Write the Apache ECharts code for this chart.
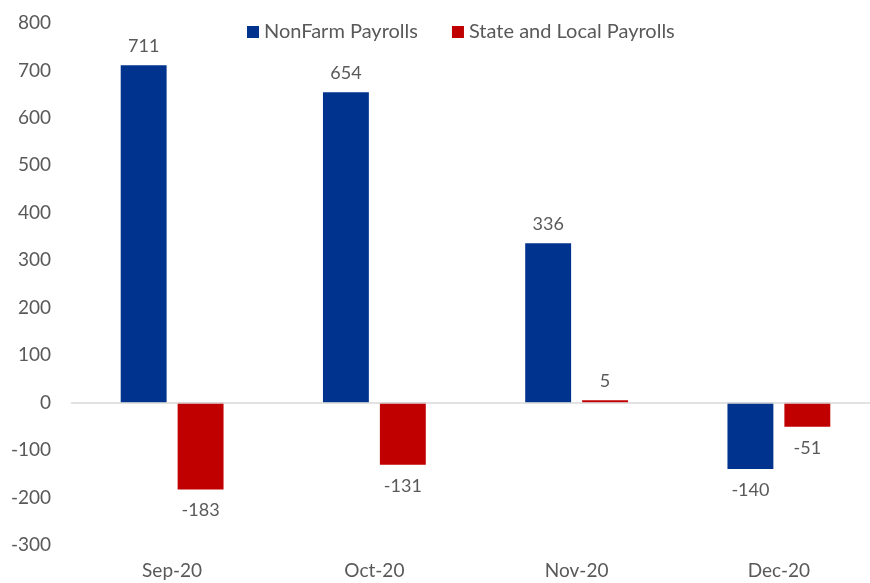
<!DOCTYPE html>
<html>
<head>
<meta charset="utf-8">
<script src="https://cdn.jsdelivr.net/npm/echarts@6/dist/echarts.min.js"></script>
<style>
  html, body { margin: 0; padding: 0; background: #fff; }
  #chart { width: 870px; height: 583px; }
</style>
</head>
<body>
<div id="chart"></div>
<script>
const months = ['Sep-20', 'Oct-20', 'Nov-20', 'Dec-20']
const nonFarm = [711, 654, 336, -140]
const stateLocal = [-183, -131, 5, -51]
const yTicks = [-300, -200, -100, 0, 100, 200, 300, 400, 500, 600, 700, 800]

const textColor = '#595959'
const font = 'Lato'

// label above positive bars, below negative ones
function withLabels(values) {
  return values.map(v => ({
    value: v,
    label: { position: v < 0 ? 'bottom' : 'top', distance: v < 0 ? 12 : 10 }
  }))
}

const chart = echarts.init(document.getElementById('chart'))
chart.setOption({
  animation: false,
  textStyle: { fontFamily: font },
  legend: {
    left: 242, top: 17,
    itemWidth: 12, itemHeight: 12, itemGap: 34, itemTextGap: 6,
    icon: 'rect',
    textStyle: { color: textColor, fontSize: 20, fontFamily: font },
    data: ['NonFarm Payrolls', 'State and Local Payrolls']
  },
  grid: { left: 71, top: 23, width: 809, bottom: 38, containLabel: false, outerBoundsMode: 'none' },
  xAxis: {
    type: 'category',
    data: months,
    axisLine: { show: false, onZero: false },
    axisTick: { show: false },
    axisLabel: { color: textColor, fontSize: 19, fontFamily: font, margin: 16 }
  },
  yAxis: {
    type: 'value',
    min: yTicks[0], max: yTicks[yTicks.length - 1], interval: 100,
    axisLine: { show: false },
    axisTick: { show: false },
    splitLine: { show: false },
    axisLabel: { color: textColor, fontSize: 19, fontFamily: font, margin: 20 }
  },
  series: [
    {
      name: 'NonFarm Payrolls', type: 'bar',
      data: withLabels(nonFarm),
      barWidth: '22.7%', barGap: '24%',
      itemStyle: { color: '#00338D' },
      label: { show: true, color: textColor, fontSize: 18, fontFamily: font },
      markLine: {
        silent: true, symbol: 'none', label: { show: false },
        lineStyle: { color: '#d9d9d9', type: 'solid', width: 1.5 },
        data: [{ yAxis: 0 }]
      }
    },
    {
      name: 'State and Local Payrolls', type: 'bar',
      data: withLabels(stateLocal),
      barWidth: '22.7%',
      itemStyle: { color: '#C00000' },
      label: { show: true, color: textColor, fontSize: 18, fontFamily: font }
    }
  ]
})
</script>
</body>
</html>
